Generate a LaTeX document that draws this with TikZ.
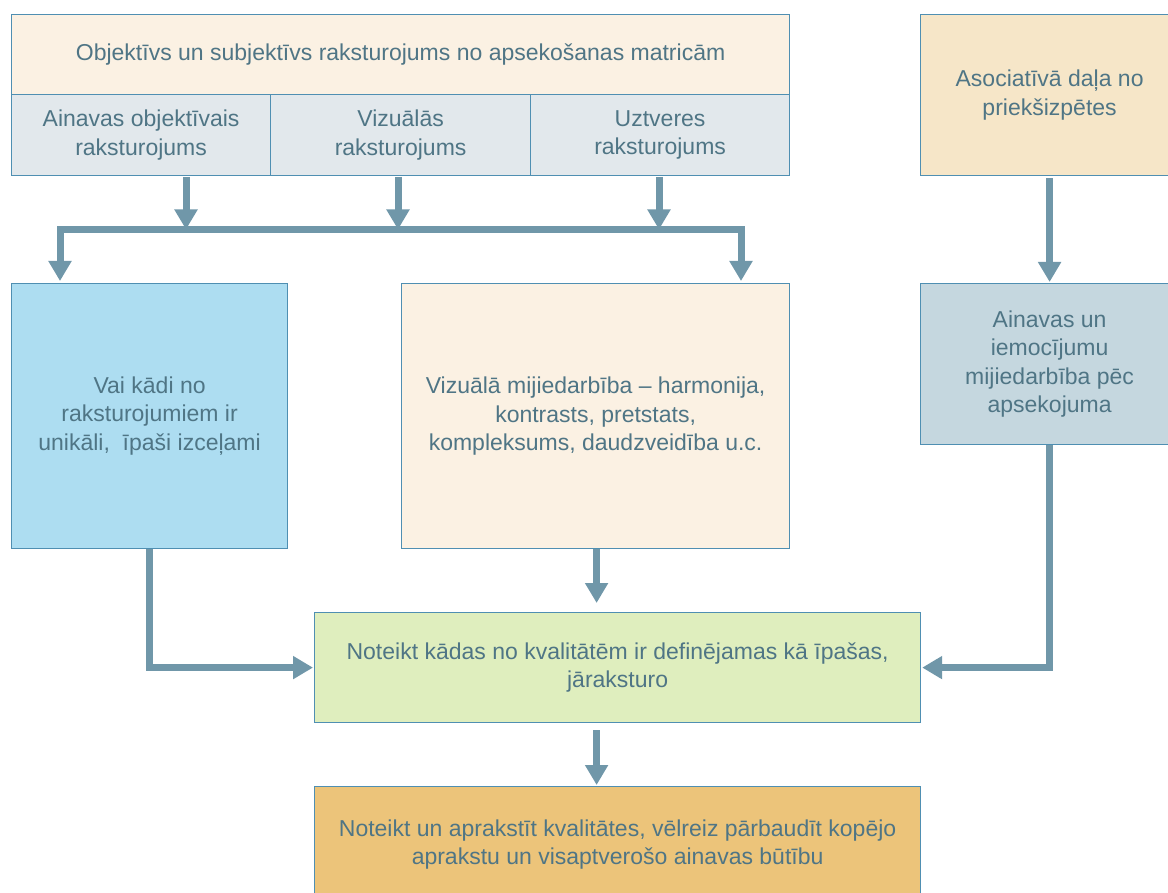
\documentclass[tikz,border=0pt]{standalone}
\usepackage{fontspec}
\setmainfont{Liberation Sans}
\usetikzlibrary{arrows.meta,calc}
\definecolor{txt}{HTML}{4F7585}
\definecolor{brd}{HTML}{4F8FB2}
\definecolor{arrc}{HTML}{7097A9}
\definecolor{fbeige}{HTML}{FBF1E3}
\definecolor{fgrey}{HTML}{E2E8EC}
\definecolor{ftan}{HTML}{F6E6C8}
\definecolor{fblue}{HTML}{ADDDF1}
\definecolor{fslate}{HTML}{C5D7DF}
\definecolor{fgreen}{HTML}{DFEEBE}
\definecolor{forange}{HTML}{ECC47A}
\tikzset{
  box/.style={draw=brd, line width=1.2pt, text=txt, align=center, inner sep=0pt,
    anchor=north west, font=\fontsize{23}{28.5}\selectfont},
  arr/.style={draw=arrc, line width=7pt, line join=miter,
    -{Triangle[width=22pt,length=20pt]}},
  bararr/.style={draw=arrc, line width=7pt, line join=miter,
    {Triangle[width=22pt,length=20pt]}-{Triangle[width=22pt,length=20pt]}}
}
\begin{document}
\begin{tikzpicture}[x=1pt,y=-1pt]
\useasboundingbox[fill=white] (0,0) rectangle (1168,893);
% top group
\node[box, fill=fbeige, minimum width=778pt, minimum height=80pt] (hdr) at (11,14)
  {Objektīvs un subjektīvs raksturojums no apsekošanas matricām};
\node[box, fill=fgrey, minimum width=259pt, minimum height=81pt] (c1) at (11,94)
  {Ainavas objektīvais\\raksturojums};
\node[box, fill=fgrey, minimum width=260pt, minimum height=81pt] (c2) at (270,94)
  {Vizuālās\\raksturojums};
\node[box, fill=fgrey, minimum width=259pt, minimum height=81pt] (c3) at (530,94)
  {Uztveres\\raksturojums};
\node[box, fill=ftan, minimum width=258pt, minimum height=161pt] (assoc) at (920,14)
  {Asociatīvā daļa no\\priekšizpētes};
% middle row
\node[box, fill=fblue, minimum width=276pt, minimum height=265pt] (uniq) at (11,283)
  {Vai kādi no\\raksturojumiem ir\\unikāli, \ īpaši izceļami};
\node[box, fill=fbeige, minimum width=388pt, minimum height=265pt] (vis) at (401,283)
  {Vizuālā mijiedarbība – harmonija,\\kontrasts, pretstats,\\kompleksums, daudzveidība u.c.};
\node[box, fill=fslate, minimum width=258pt, minimum height=161pt] (imp) at (920,283)
  {Ainavas un\\iemocījumu\\mijiedarbība pēc\\apsekojuma};
% lower
\node[box, fill=fgreen, minimum width=606pt, minimum height=110pt] (def) at (314,612)
  {Noteikt kādas no kvalitātēm ir definējamas kā īpašas,\\jāraksturo};
\node[box, fill=forange, minimum width=606pt, minimum height=116pt] (fin) at (314,786)
  {Noteikt un aprakstīt kvalitātes, vēlreiz pārbaudīt kopējo\\aprakstu un visaptverošo ainavas būtību};
% bar
\coordinate (barL) at (60,229.5);
\coordinate (barR) at (741,229.5);
\coordinate (s1) at (186,177);
\coordinate (s2) at (398,177);
\coordinate (s3) at (659,177);
\draw[arr] (s1) -- (s1 |- barL);
\draw[arr] (s2) -- (s2 |- barL);
\draw[arr] (s3) -- (s3 |- barL);
\draw[bararr] ($(barL |- uniq.north)+(0,-2)$) -- (barL) -- (barR) -- ($(barR |- vis.north)+(0,-2)$);
\draw[arr] ($(assoc.south)+(0,2)$) -- ($(imp.north)+(0,-1)$);
\draw[arr] (uniq.south) |- ($(def.west)+(-1,0)$);
\draw[arr] ($(vis.south)+(1,0)$) -- ($(vis.south |- def.north)+(1,-9)$);
\draw[arr] (imp.south) |- ($(def.east)+(1,0)$);
\draw[arr] ($(def.south -| vis.south)+(1,7)$) -- ($(fin.north -| vis.south)+(1,-1)$);
\end{tikzpicture}
\end{document}
